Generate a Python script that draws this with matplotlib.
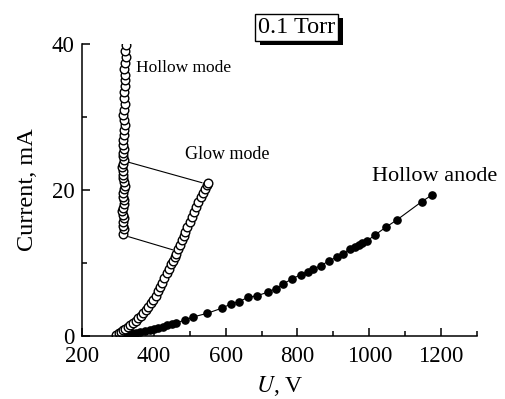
import matplotlib.pyplot as plt
from matplotlib import patheffects
from matplotlib.ticker import MultipleLocator

plt.rcParams['font.family'] = ['Liberation Serif', 'DejaVu Serif']
plt.rcParams['mathtext.fontset'] = 'stix'

# hollow anode discharge (filled dots)
anode_u = [300, 312, 325, 338, 350, 362, 375, 388, 400, 412, 425, 437, 450, 463, 487,
           509, 548, 589, 615, 637, 662, 687, 717, 740, 759, 784, 809, 829, 843, 865,
           887, 910, 926, 946, 960, 970, 980, 993, 1015, 1046, 1077, 1146, 1174]
anode_i = [0.05, 0.15, 0.25, 0.35, 0.45, 0.55, 0.7, 0.85, 1.0, 1.15, 1.3, 1.5, 1.65, 1.8, 2.2,
           2.6, 3.1, 3.8, 4.4, 4.7, 5.3, 5.5, 6.0, 6.5, 7.1, 7.8, 8.4, 8.8, 9.2, 9.6,
           10.3, 10.8, 11.3, 11.9, 12.2, 12.4, 12.7, 13.0, 13.8, 14.9, 15.9, 18.4, 19.3]

# glow mode (open circles)
glow_u = [295, 302, 308, 314, 320, 327, 334, 342, 350, 357, 364, 371, 378, 385, 392, 398,
          405, 411, 417, 423, 429, 436, 442, 448, 453, 458, 463, 468, 473, 478, 483, 488,
          493, 500, 506, 512, 518, 524, 530, 536, 542, 548, 551]
glow_i = [0.2, 0.4, 0.6, 0.8, 1.0, 1.2, 1.5, 1.8, 2.1, 2.4, 2.8, 3.2, 3.6, 4.0, 4.5, 5.0,
          5.5, 6.1, 6.7, 7.3, 8.0, 8.6, 9.2, 9.8, 10.3, 10.8, 11.3, 11.9, 12.5, 13.1, 13.7, 14.3,
          14.9, 15.6, 16.3, 17.0, 17.7, 18.4, 19.0, 19.6, 20.2, 20.7, 21.0]

# hollow mode (open circles)
hollow_i = [14.0, 14.6, 15.1, 15.6, 16.1, 16.6, 17.1, 17.6, 18.1, 18.6, 19.1, 19.6, 20.1,
            20.6, 21.1, 21.6, 22.1, 22.6, 23.1, 23.6, 24.1, 24.6, 25.1, 25.6, 26.2, 26.8,
            27.5, 28.2, 28.9, 29.6, 30.3, 31.0, 31.8, 32.6, 33.4, 34.2, 35.0, 35.8, 36.6,
            37.4, 38.2, 39.0, 39.8]
hollow_u = [314, 316, 313, 315, 317, 314, 312, 315, 318, 316, 313, 315, 317, 319, 316, 314,
            313, 315, 312, 314, 316, 313, 315, 318, 315, 313, 316, 318, 320, 317, 315, 318,
            320, 318, 316, 319, 321, 319, 317, 320, 322, 321, 322]

# leader lines between the two modes
link1_u, link1_i = [330, 534], [23.8, 21.0]
link2_u, link2_i = [330, 453], [13.6, 11.8]

fig = plt.figure(figsize=(5.05, 3.99), dpi=100)
ax = fig.add_axes([82 / 505, 1 - 336 / 399, 395 / 505, 292 / 399])

ax.plot(link1_u, link1_i, color='black', lw=0.8)
ax.plot(link2_u, link2_i, color='black', lw=0.8)
ax.plot(anode_u, anode_i, '-o', color='black', lw=0.8, ms=5.2)
ax.plot(glow_u, glow_i, 'o', mfc='white', mec='black', mew=1.0, ms=6.2)
ax.plot(hollow_u, hollow_i, 'o', mfc='white', mec='black', mew=1.0, ms=6.2)

ax.set_xlim(200, 1300)
ax.set_ylim(0, 40)
ax.xaxis.set_major_locator(MultipleLocator(200))
ax.xaxis.set_minor_locator(MultipleLocator(100))
ax.yaxis.set_major_locator(MultipleLocator(20))
ax.yaxis.set_minor_locator(MultipleLocator(10))
ax.tick_params(which='both', direction='in', width=1.1, labelsize=16.5)
ax.tick_params(axis='y', pad=5.5)
ax.tick_params(axis='x', pad=7)
ax.tick_params(which='major', length=6)
ax.tick_params(which='minor', length=3.5)
for s in ['top', 'right']:
    ax.spines[s].set_visible(False)
for s in ['left', 'bottom']:
    ax.spines[s].set_linewidth(1.1)

ax.set_xlabel('$U$, V', fontsize=17, labelpad=5)
ax.set_ylabel('Current, mA', fontsize=17.5, labelpad=10)

ax.text(350, 36.7, 'Hollow mode', fontsize=12.5, va='center')
ax.text(487, 24.8, 'Glow mode', fontsize=13, va='center')
ax.text(1007, 21.8, 'Hollow anode', fontsize=16, va='center')

t = fig.text(0.588, 0.932, '0.1 Torr', fontsize=17.5, ha='center', va='center',
             bbox=dict(boxstyle='square,pad=0.12', fc='white', ec='black', lw=1.0))
t.get_bbox_patch().set_path_effects([
    patheffects.SimplePatchShadow(offset=(3, -3), shadow_rgbFace='black', alpha=1),
    patheffects.Normal()])

fig.savefig('out.png', dpi=100)
